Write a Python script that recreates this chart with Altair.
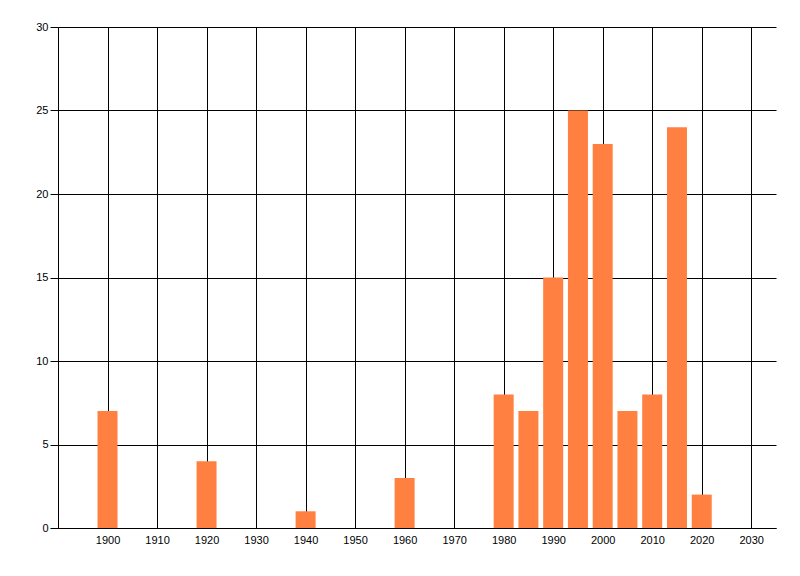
import altair as alt
import pandas as pd

# bar values
years = [1900, 1920, 1940, 1960, 1980, 1985, 1990, 1995, 2000, 2005, 2010, 2015, 2020]
counts = [7, 4, 1, 3, 8, 7, 15, 25, 23, 7, 8, 24, 2]
x_ticks = list(range(1900, 2031, 10))
y_ticks = [0, 5, 10, 15, 20, 25, 30]

df = pd.DataFrame({'year': years, 'count': counts})

chart = alt.Chart(df).mark_bar(size=20, color='#FF8040').encode(
    alt.X('year:Q',
          scale=alt.Scale(domain=[1890, 2035], nice=False, zero=False, padding=0),
          axis=alt.Axis(title=None, values=x_ticks, format='d', ticks=False,
                        labelPadding=6, labelFlush=False)),
    alt.Y('count:Q',
          scale=alt.Scale(domain=[0, 30], nice=False, padding=0),
          axis=alt.Axis(title=None, values=y_ticks, tickSize=8, labelPadding=2,
                        domain=True))
).properties(
    width=718,
    height=501,
    autosize=alt.AutoSizeParams(type='none'),
    padding={'left': 50, 'top': 19, 'right': 16, 'bottom': 40}
).configure_axis(
    grid=True,
    gridColor='black',
    gridOpacity=1,
    gridWidth=1,
    domainColor='black',
    domainWidth=1,
    tickColor='black',
    tickWidth=1,
    labelColor='black',
    labelFont='Liberation Sans',
    labelFontSize=11
).configure_view(
    strokeOpacity=0
)

chart.save('out.html', embed_options={'renderer': 'svg', 'actions': False})
